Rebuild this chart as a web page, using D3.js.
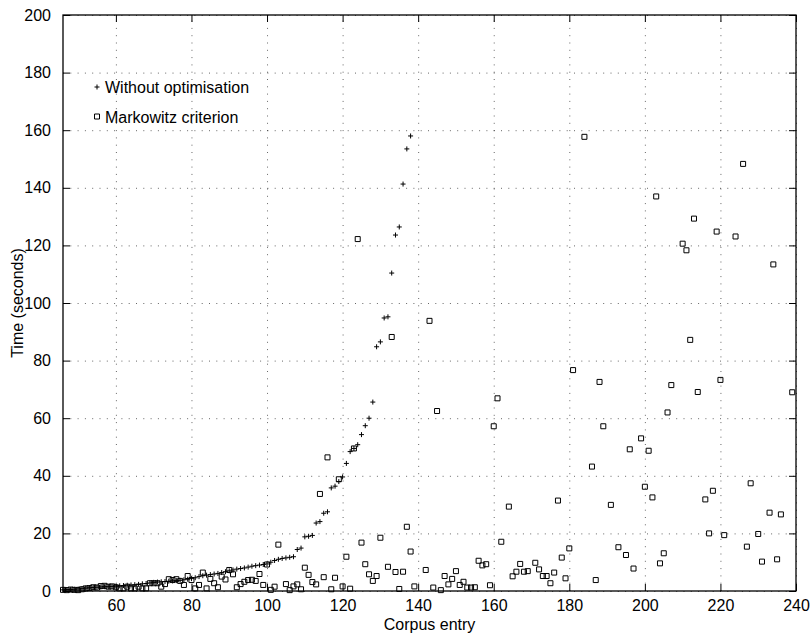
<!DOCTYPE html>
<html>
<head>
<meta charset="utf-8">
<script src="https://cdn.jsdelivr.net/npm/d3@7"></script>
<style>
  html, body { margin: 0; padding: 0; background: #fff; }
  svg { display: block; }
</style>
</head>
<body>
<svg id="chart"></svg>
<script>
// series: [corpus entry, time in seconds]
const withoutOptimisation = [
    [46, 0.4], [47, 0.5], [48, 0.5], [49, 0.6], [50, 0.7], [51, 0.8], [52, 1.0], [53, 1.1],
    [54, 1.2], [55, 1.3], [56, 1.4], [57, 1.5], [58, 1.5], [59, 1.6], [60, 1.7], [61, 1.8],
    [62, 1.9], [63, 2.0], [64, 2.1], [65, 2.2], [66, 2.3], [67, 2.5], [68, 2.6], [69, 2.8],
    [70, 3.0], [71, 3.1], [72, 3.2], [73, 3.3], [74, 3.4], [75, 3.5], [76, 3.6], [77, 3.7],
    [78, 3.9], [79, 4.1], [80, 4.3], [81, 4.6], [82, 5.0], [83, 5.3], [84, 5.5], [85, 5.7],
    [86, 5.9], [87, 6.1], [88, 6.4], [89, 6.7], [90, 7.0], [91, 7.3], [92, 7.6], [93, 7.8],
    [94, 8.0], [95, 8.3], [96, 8.6], [97, 8.8], [98, 9.0], [99, 9.2], [100, 9.4], [101, 10.0],
    [102, 10.6], [103, 11.0], [104, 11.3], [105, 11.5], [106, 11.7], [107, 11.9], [108, 14.4],
    [109, 14.9], [110, 18.8], [111, 19.0], [112, 19.3], [113, 23.6], [114, 24.1], [115, 27.0],
    [116, 27.5], [117, 35.8], [118, 36.4], [119, 38.0], [120, 39.6], [121, 44.3], [122, 48.4],
    [123, 49.5], [124, 50.8], [125, 54.3], [126, 57.4], [127, 60.0], [128, 65.6], [129, 84.8],
    [130, 86.5], [131, 94.8], [132, 95.2], [133, 110.4], [134, 123.6], [135, 126.4],
    [136, 141.3], [137, 153.5], [138, 158.0]
];

const markowitzCriterion = [
    [46, 0.4], [47, 0.3], [48, 0.5], [49, 0.4], [50, 0.3], [51, 0.6], [52, 0.9], [53, 1.0],
    [54, 1.3], [55, 1.2], [56, 1.7], [57, 1.8], [58, 1.5], [59, 1.6], [60, 1.3], [61, 0.9],
    [62, 0.9], [63, 1.5], [64, 0.9], [65, 0.9], [66, 1.5], [67, 0.9], [68, 0.9], [69, 2.7],
    [70, 2.7], [71, 2.7], [72, 1.5], [73, 2.4], [74, 4.1], [75, 3.8], [76, 4.1], [77, 3.5],
    [78, 2.1], [79, 5.2], [80, 3.8], [81, 0.9], [82, 2.1], [83, 6.4], [84, 0.9], [85, 4.2],
    [86, 2.7], [87, 1.3], [88, 5.0], [89, 4.0], [90, 7.3], [91, 5.8], [92, 1.3], [93, 2.4],
    [94, 3.2], [95, 3.8], [96, 3.9], [97, 3.5], [98, 5.9], [99, 2.1], [100, 9.2], [101, 0.4],
    [102, 1.5], [103, 16.1], [105, 2.4], [106, 0.3], [107, 1.6], [108, 2.3], [109, 0.6],
    [110, 8.1], [111, 5.6], [112, 3.1], [113, 2.3], [114, 33.7], [115, 4.8], [116, 46.4],
    [117, 0.6], [118, 4.6], [119, 38.8], [120, 1.6], [121, 11.9], [122, 0.8], [123, 49.5],
    [124, 122.2], [125, 16.8], [126, 9.3], [127, 5.8], [128, 3.5], [129, 5.2], [130, 18.5],
    [132, 8.4], [133, 88.2], [134, 6.6], [135, 0.7], [136, 6.7], [137, 22.3], [138, 13.7],
    [139, 1.6], [142, 7.3], [143, 93.8], [144, 1.2], [145, 62.5], [146, 0.3], [147, 5.2],
    [148, 2.3], [149, 4.2], [150, 6.9], [151, 2.1], [152, 3.2], [153, 1.2], [154, 1.2],
    [155, 1.3], [156, 10.5], [157, 8.9], [158, 9.3], [159, 2.0], [160, 57.2], [161, 66.9],
    [162, 17.1], [164, 29.3], [165, 5.1], [166, 6.7], [167, 9.4], [168, 6.7], [169, 6.9],
    [171, 9.8], [172, 7.5], [173, 5.2], [174, 5.2], [175, 2.7], [176, 6.4], [177, 31.4],
    [178, 11.6], [179, 4.4], [180, 14.8], [181, 76.7], [184, 157.7], [186, 43.2], [187, 3.8],
    [188, 72.6], [189, 57.2], [191, 29.9], [193, 15.2], [195, 12.5], [196, 49.2], [197, 7.8],
    [199, 53.0], [200, 36.2], [201, 48.7], [202, 32.5], [203, 137.0], [204, 9.6], [205, 13.1],
    [206, 62.0], [207, 71.5], [210, 120.6], [211, 118.3], [212, 87.2], [213, 129.3],
    [214, 69.1], [216, 31.8], [217, 20.0], [218, 34.8], [219, 124.8], [220, 73.3], [221, 19.4],
    [224, 123.1], [226, 148.3], [227, 15.4], [228, 37.4], [230, 19.8], [231, 10.2], [233, 27.2],
    [234, 113.4], [235, 11.0], [236, 26.6], [239, 69.0]
];

const xTicks = [60, 80, 100, 120, 140, 160, 180, 200, 220, 240];
const yTicks = [0, 20, 40, 60, 80, 100, 120, 140, 160, 180, 200];
const legendLabels = ['Without optimisation', 'Markowitz criterion'];

const WIDTH = 811, HEIGHT = 635;
const MARGINS = { top: 15, right: 15, bottom: 44, left: 63 };
const PLOT_W = WIDTH - MARGINS.left - MARGINS.right;
const PLOT_H = HEIGHT - MARGINS.top - MARGINS.bottom;
const FONT = '"Liberation Sans", Arial, Helvetica, sans-serif';
const TICK_LEN = 7;

const xScale = d3.scaleLinear().domain([46, 240]).range([0, PLOT_W]);
const yScale = d3.scaleLinear().domain([0, 200]).range([PLOT_H, 0]);

const svg = d3.select('#chart')
    .attr('width', WIDTH)
    .attr('height', HEIGHT)
    .style('background-color', '#fff');

const plot = svg.append('g')
    .attr('transform', `translate(${MARGINS.left},${MARGINS.top})`);

// dotted grid
const gridX = plot.append('g')
    .attr('transform', `translate(0,${PLOT_H})`)
    .call(d3.axisBottom(xScale).tickValues(xTicks).tickSize(-PLOT_H).tickFormat(''));
const gridY = plot.append('g')
    .call(d3.axisLeft(yScale).tickValues(yTicks).tickSize(-PLOT_W).tickFormat(''));
[gridX, gridY].forEach(g => {
    g.select('.domain').remove();
    g.selectAll('line')
        .style('stroke', '#000')
        .style('stroke-width', 1)
        .style('stroke-dasharray', '1,6.3')
        .style('opacity', 0.6);
});

// axes with inward ticks on all four sides
function styleAxis(g) {
    g.select('.domain').remove();
    g.selectAll('line').style('stroke', '#000').style('stroke-width', 1);
    g.selectAll('text')
        .style('font-family', FONT)
        .style('font-size', '16px')
        .style('fill', '#000');
}

plot.append('g')
    .attr('transform', `translate(0,${PLOT_H})`)
    .call(d3.axisBottom(xScale).tickValues(xTicks).tickSizeInner(-TICK_LEN).tickSizeOuter(0).tickPadding(TICK_LEN + 2))
    .call(styleAxis);
plot.append('g')
    .call(d3.axisTop(xScale).tickValues(xTicks).tickSizeInner(-TICK_LEN).tickSizeOuter(0).tickFormat(''))
    .call(styleAxis);
plot.append('g')
    .call(d3.axisLeft(yScale).tickValues(yTicks).tickSizeInner(-TICK_LEN).tickSizeOuter(0).tickPadding(TICK_LEN + 5))
    .call(styleAxis);
plot.append('g')
    .attr('transform', `translate(${PLOT_W},0)`)
    .call(d3.axisRight(yScale).tickValues(yTicks).tickSizeInner(-TICK_LEN).tickSizeOuter(0).tickFormat(''))
    .call(styleAxis);

plot.append('rect')
    .attr('width', PLOT_W)
    .attr('height', PLOT_H)
    .style('fill', 'none')
    .style('stroke', '#000')
    .style('stroke-width', 1.3);

// markers
const PLUS = 'M-2.5,0H2.5M0,-2.5V2.5';
const SQUARE = 'M-2.5,-2.5H2.5V2.5H-2.5Z';

plot.selectAll('.markowitz')
    .data(markowitzCriterion)
    .enter()
    .append('path')
    .classed('markowitz', true)
    .attr('d', SQUARE)
    .attr('transform', d => `translate(${xScale(d[0])},${yScale(d[1])})`)
    .style('fill', 'none')
    .style('stroke', '#000')
    .style('stroke-width', 1);

plot.selectAll('.without')
    .data(withoutOptimisation)
    .enter()
    .append('path')
    .classed('without', true)
    .attr('d', PLUS)
    .attr('transform', d => `translate(${xScale(d[0])},${yScale(d[1])})`)
    .style('fill', 'none')
    .style('stroke', '#000')
    .style('stroke-width', 1);

// legend
const legend = svg.append('g');
const legendItems = legend.selectAll('.legend-item')
    .data(legendLabels)
    .enter()
    .append('g')
    .attr('transform', (d, i) => `translate(97,${87 + i * 29.5})`);
legendItems.append('path')
    .attr('d', (d, i) => i === 0 ? PLUS : SQUARE)
    .style('fill', 'none')
    .style('stroke', '#000')
    .style('stroke-width', 1);
legendItems.append('text')
    .text(d => d)
    .attr('x', 8)
    .attr('y', 6)
    .style('font-family', FONT)
    .style('font-size', '16px')
    .style('fill', '#000');

// axis labels
svg.append('text')
    .text('Corpus entry')
    .attr('x', MARGINS.left + PLOT_W / 2)
    .attr('y', 630)
    .style('font-family', FONT)
    .style('font-size', '16px')
    .style('text-anchor', 'middle');

svg.append('text')
    .text('Time (seconds)')
    .attr('transform', `translate(23,${MARGINS.top + PLOT_H / 2}) rotate(-90)`)
    .style('font-family', FONT)
    .style('font-size', '16px')
    .style('text-anchor', 'middle');
</script>
</body>
</html>
